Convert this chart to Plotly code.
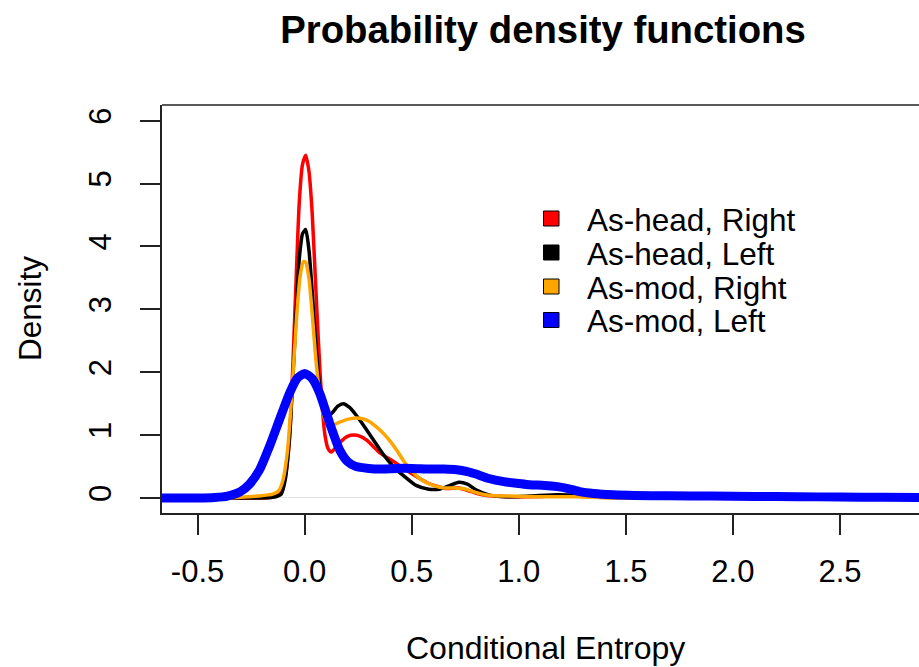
import plotly.graph_objects as go

# ---------------- data ----------------
series_names = ["As-head, Right", "As-head, Left", "As-mod, Right", "As-mod, Left"]
series_colors = ["#ff0000", "#000000", "#ffa500", "#0000ff"]

x_head_right = [-0.67, -0.4, -0.25, -0.15, -0.11, -0.09, -0.07, -0.055, -0.04, -0.025, -0.01, 0.005,
                0.02, 0.035, 0.05, 0.065, 0.08, 0.095, 0.11, 0.125, 0.145, 0.17, 0.2, 0.23, 0.26, 0.29,
                0.32, 0.35, 0.42, 0.49, 0.58, 0.66, 0.72, 0.78, 0.83, 0.88, 0.95, 1.05, 1.15, 1.25,
                1.35, 1.45, 1.55, 1.7, 2.0, 2.4, 2.87]
y_head_right = [0, 0, 0, 0.01, 0.08, 0.35, 0.95, 2.1, 3.45, 4.7, 5.3, 5.45,
                5.2, 4.55, 3.5, 2.45, 1.55, 1.0, 0.78, 0.73, 0.8, 0.9, 0.98, 1.0, 0.98, 0.92,
                0.82, 0.72, 0.57, 0.41, 0.23, 0.15, 0.16, 0.1, 0.05, 0.03, 0.02, 0.02, 0.03, 0.04,
                0.03, 0.02, 0.01, 0, 0, 0, 0]

x_head_left = [-0.67, -0.4, -0.25, -0.15, -0.11, -0.09, -0.07, -0.055, -0.04, -0.025, -0.01, 0.005,
               0.02, 0.035, 0.05, 0.065, 0.08, 0.095, 0.11, 0.13, 0.155, 0.18, 0.21, 0.24, 0.27,
               0.32, 0.37, 0.42, 0.47, 0.52, 0.58, 0.63, 0.68, 0.72, 0.76, 0.8, 0.86, 0.94, 1.05,
               1.18, 1.28, 1.4, 1.6, 2.0, 2.87]
y_head_left = [0, 0, 0, 0.01, 0.06, 0.3, 1.0, 1.9, 2.9, 3.8, 4.2, 4.27,
               3.95, 3.3, 2.55, 1.95, 1.55, 1.35, 1.3, 1.36, 1.46, 1.5, 1.44, 1.32, 1.18,
               0.93, 0.68, 0.48, 0.33, 0.2, 0.14, 0.14, 0.2, 0.25, 0.22, 0.13, 0.05, 0.02, 0.03,
               0.05, 0.04, 0.01, 0, 0, 0]

x_mod_right = [-0.67, -0.4, -0.3, -0.22, -0.15, -0.12, -0.1, -0.08, -0.065, -0.05, -0.035, -0.02,
               -0.005, 0.005, 0.02, 0.035, 0.05, 0.065, 0.08, 0.095, 0.11, 0.13, 0.16, 0.2, 0.24,
               0.27, 0.3, 0.335, 0.37, 0.4, 0.43, 0.46, 0.49, 0.52, 0.56, 0.6, 0.65, 0.7, 0.74,
               0.78, 0.83, 0.87, 0.95, 1.1, 1.26, 1.35, 1.41, 1.6, 2.0, 2.87]
y_mod_right = [0, 0, 0.01, 0.03, 0.06, 0.12, 0.3, 0.75, 1.4, 2.2, 3.0, 3.55,
               3.76, 3.75, 3.5, 2.95, 2.3, 1.8, 1.45, 1.25, 1.17, 1.16, 1.2, 1.25, 1.27,
               1.26, 1.22, 1.13, 1.02, 0.9, 0.76, 0.6, 0.47, 0.36, 0.26, 0.2, 0.16, 0.16, 0.15,
               0.11, 0.06, 0.04, 0.03, 0.02, 0.02, 0.01, 0.0, 0, 0, 0]

x_mod_left = [-0.67, -0.5, -0.42, -0.36, -0.3, -0.257, -0.21, -0.164, -0.117, -0.07, -0.035, 0.0,
              0.035, 0.07, 0.117, 0.164, 0.2, 0.24, 0.3, 0.35, 0.43, 0.5, 0.58, 0.65, 0.71,
              0.76, 0.8, 0.86, 0.93, 1.0, 1.05, 1.12, 1.18, 1.23, 1.285, 1.35, 1.44, 1.54,
              1.7, 1.9, 2.1, 2.3, 2.5, 2.7, 2.87]
y_mod_left = [0, 0, 0.008, 0.03, 0.1, 0.22, 0.45, 0.82, 1.25, 1.67, 1.9, 1.98,
              1.9, 1.67, 1.19, 0.76, 0.58, 0.5, 0.47, 0.46, 0.47, 0.47, 0.46, 0.46, 0.45,
              0.42, 0.38, 0.31, 0.26, 0.23, 0.21, 0.2, 0.18, 0.15, 0.1, 0.07, 0.05, 0.04,
              0.035, 0.03, 0.025, 0.02, 0.015, 0.01, 0.008]

x_tick_vals = [-0.5, 0.0, 0.5, 1.0, 1.5, 2.0, 2.5]
x_tick_text = ["-0.5", "0.0", "0.5", "1.0", "1.5", "2.0", "2.5"]
y_tick_vals = [0, 1, 2, 3, 4, 5, 6]
y_tick_text = ["0", "1", "2", "3", "4", "5", "6"]

title_text = "Probability density functions"
x_title = "Conditional Entropy"
y_title = "Density"

# ---------------- figure ----------------
W, H = 919, 667
L, R, T, B = 162, 0, 105, 154
FONT = "Liberation Sans, Arial, sans-serif"

xs = [x_head_right, x_head_left, x_mod_right, x_mod_left]
ys = [y_head_right, y_head_left, y_mod_right, y_mod_left]
widths = [3.5, 3.5, 3.5, 9]

fig = go.Figure()
for name, col, x, y, w in zip(series_names, series_colors, xs, ys, widths):
    fig.add_trace(go.Scatter(x=x, y=y, mode="lines", name=name,
                             line=dict(color=col, width=w, shape="spline", smoothing=0.6),
                             showlegend=False, hoverinfo="skip"))

pw = W - L - R
ph = H - T - B


def px_x(px):
    return (px - L) / pw


def px_y(py):
    return (H - B - py) / ph


shapes = [dict(type="line", xref="paper", yref="paper", x0=0, x1=1.01, y0=1, y1=1,
               line=dict(color="#222222", width=1.5))]
annotations = []

# legend (manual, like R's legend())
row_y = [218.5, 252.5, 286.5, 320]
for name, col, ry in zip(series_names, series_colors, row_y):
    shapes.append(dict(type="rect", xref="paper", yref="paper",
                       x0=px_x(543.5), x1=px_x(559), y0=px_y(ry - 7.5), y1=px_y(ry + 7.5),
                       fillcolor=col, line=dict(color="#000000", width=1)))
    annotations.append(dict(text=name, xref="paper", yref="paper", x=px_x(585), y=px_y(ry + 1),
                            xanchor="left", yanchor="middle", showarrow=False,
                            font=dict(family=FONT, size=31.5, color="#000000")))

annotations.append(dict(text=x_title, xref="paper", yref="paper", x=px_x(545), y=px_y(648),
                        xanchor="center", yanchor="middle", showarrow=False,
                        font=dict(family=FONT, size=32, color="#000000")))
annotations.append(dict(text=y_title, xref="paper", yref="paper", x=px_x(30), y=px_y(309),
                        xanchor="center", yanchor="middle", showarrow=False, textangle=-90,
                        font=dict(family=FONT, size=31.5, color="#000000")))

fig.update_layout(
    width=W, height=H,
    margin=dict(l=L, r=R, t=T, b=B, pad=0),
    paper_bgcolor="white", plot_bgcolor="white",
    title=dict(text=title_text, x=543 / W, xref="container", xanchor="center",
               y=1 - 30 / H, yref="container", yanchor="middle",
               font=dict(family=FONT, size=38.3, color="#000000", weight="bold")),
    font=dict(family=FONT, size=31, color="#000000"),
    shapes=shapes, annotations=annotations,
    showlegend=False,
)
fig.update_xaxes(range=[-0.666, 2.869], tickmode="array", tickvals=x_tick_vals, ticktext=x_tick_text,
                 showgrid=False, zeroline=False, showline=True, linecolor="#222222", linewidth=1.5,
                 ticks="outside", ticklen=20, tickwidth=1.5, tickcolor="#222222",
                 ticklabelstandoff=10, tickfont=dict(family=FONT, size=31, color="#000000"))
fig.update_yaxes(range=[-0.239, 6.25], tickmode="array", tickvals=y_tick_vals, ticktext=y_tick_text,
                 showgrid=False, zeroline=True, zerolinecolor="#e4e4e4", zerolinewidth=1,
                 showline=True, linecolor="#222222", linewidth=1.5,
                 ticks="outside", ticklen=20, tickwidth=1.5, tickcolor="#222222", tickangle=-90,
                 ticklabelstandoff=17, tickfont=dict(family=FONT, size=31, color="#000000"))

fig.write_html("out.html")
